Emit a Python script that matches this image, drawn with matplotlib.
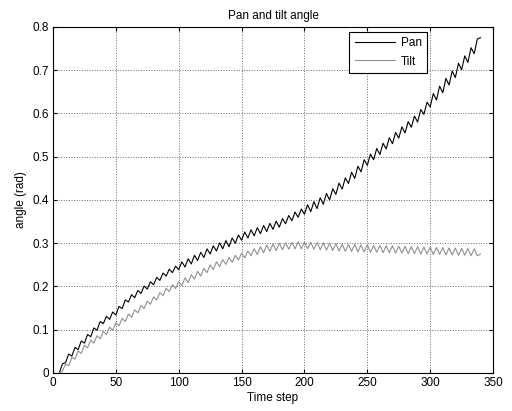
import numpy as np
import matplotlib.pyplot as plt

plt.rcParams['font.family'] = ['Liberation Sans', 'DejaVu Sans']

# time steps: 5 .. 340 every 2.5 (peaks and troughs of the zigzag)
time_step = np.arange(5, 340.1, 2.5)

pan = [
    0.000, 0.021, 0.024, 0.044, 0.039, 0.059, 0.054, 0.074, 0.069, 0.089,
    0.084, 0.104, 0.099, 0.119, 0.114, 0.131, 0.124, 0.141, 0.134, 0.154,
    0.149, 0.169, 0.164, 0.181, 0.174, 0.191, 0.184, 0.201, 0.194, 0.211,
    0.204, 0.221, 0.214, 0.231, 0.224, 0.240, 0.232, 0.247, 0.239, 0.257,
    0.245, 0.264, 0.252, 0.272, 0.260, 0.279, 0.267, 0.287, 0.275, 0.294,
    0.282, 0.301, 0.287, 0.306, 0.292, 0.312, 0.300, 0.319, 0.307, 0.326,
    0.312, 0.331, 0.317, 0.336, 0.322, 0.341, 0.327, 0.346, 0.332, 0.351,
    0.337, 0.357, 0.345, 0.364, 0.352, 0.372, 0.360, 0.379, 0.367, 0.389,
    0.373, 0.396, 0.380, 0.405, 0.390, 0.415, 0.400, 0.426, 0.413, 0.439,
    0.425, 0.451, 0.438, 0.464, 0.450, 0.478, 0.465, 0.493, 0.480, 0.506,
    0.493, 0.519, 0.505, 0.531, 0.518, 0.544, 0.530, 0.556, 0.543, 0.569,
    0.555, 0.581, 0.568, 0.594, 0.580, 0.609, 0.598, 0.626, 0.615, 0.646,
    0.631, 0.663, 0.648, 0.681, 0.666, 0.698, 0.683, 0.716, 0.701, 0.733,
    0.718, 0.752, 0.738, 0.772, 0.775,
]

tilt = [
    0.000, 0.004, 0.021, 0.017, 0.036, 0.032, 0.051, 0.045, 0.064, 0.058,
    0.076, 0.069, 0.086, 0.079, 0.096, 0.089, 0.106, 0.099, 0.116, 0.109,
    0.126, 0.119, 0.136, 0.129, 0.146, 0.139, 0.156, 0.149, 0.166, 0.159,
    0.176, 0.169, 0.186, 0.179, 0.196, 0.188, 0.204, 0.195, 0.211, 0.202,
    0.220, 0.209, 0.227, 0.217, 0.235, 0.224, 0.242, 0.232, 0.250, 0.239,
    0.257, 0.246, 0.262, 0.251, 0.267, 0.256, 0.272, 0.261, 0.277, 0.266,
    0.282, 0.271, 0.287, 0.274, 0.292, 0.278, 0.296, 0.281, 0.298, 0.283,
    0.300, 0.285, 0.301, 0.286, 0.302, 0.287, 0.303, 0.287, 0.303, 0.287,
    0.302, 0.286, 0.302, 0.285, 0.301, 0.284, 0.300, 0.283, 0.299, 0.282,
    0.298, 0.281, 0.297, 0.281, 0.297, 0.280, 0.296, 0.280, 0.296, 0.279,
    0.295, 0.279, 0.295, 0.278, 0.294, 0.278, 0.294, 0.277, 0.293, 0.277,
    0.293, 0.276, 0.292, 0.276, 0.292, 0.275, 0.291, 0.275, 0.291, 0.274,
    0.290, 0.274, 0.290, 0.273, 0.289, 0.273, 0.289, 0.272, 0.288, 0.272,
    0.288, 0.271, 0.287, 0.271, 0.275,
]

xticks = [0, 50, 100, 150, 200, 250, 300, 350]
yticks = [0, 0.1, 0.2, 0.3, 0.4, 0.5, 0.6, 0.7, 0.8]
ytick_labels = ['0', '0.1', '0.2', '0.3', '0.4', '0.5', '0.6', '0.7', '0.8']

fig = plt.figure(figsize=(5.12, 4.11), dpi=100)
ax = fig.add_axes([0.1035, 0.0925, 0.8595, 0.842])

ax.plot(time_step, pan, color='black', lw=0.8, label='Pan')
ax.plot(time_step, tilt, color='#909090', lw=0.8, label='Tilt')

ax.set_xlim(0, 350)
ax.set_ylim(0, 0.8)
ax.set_xticks(xticks)
ax.set_yticks(yticks)
ax.set_yticklabels(ytick_labels)
ax.grid(True, linestyle=':', color='0.4', lw=0.7)
ax.tick_params(direction='in', top=True, right=True, labelsize=8.5, length=3, pad=3)
for s in ax.spines.values():
    s.set_linewidth(0.8)

ax.set_title('Pan and tilt angle', fontsize=8.5, pad=6)
ax.set_xlabel('Time step', fontsize=8.5, labelpad=2)
ax.set_ylabel('angle (rad)', fontsize=8.5, labelpad=4)

leg = ax.legend(loc='upper right', bbox_to_anchor=(0.85, 0.986), fontsize=8.5,
                fancybox=False, framealpha=1, edgecolor='black',
                handlelength=3.4, borderaxespad=0, borderpad=0.45,
                labelspacing=0.55, handletextpad=0.5)
leg.get_frame().set_linewidth(0.8)

fig.savefig('out.png', dpi=100)
